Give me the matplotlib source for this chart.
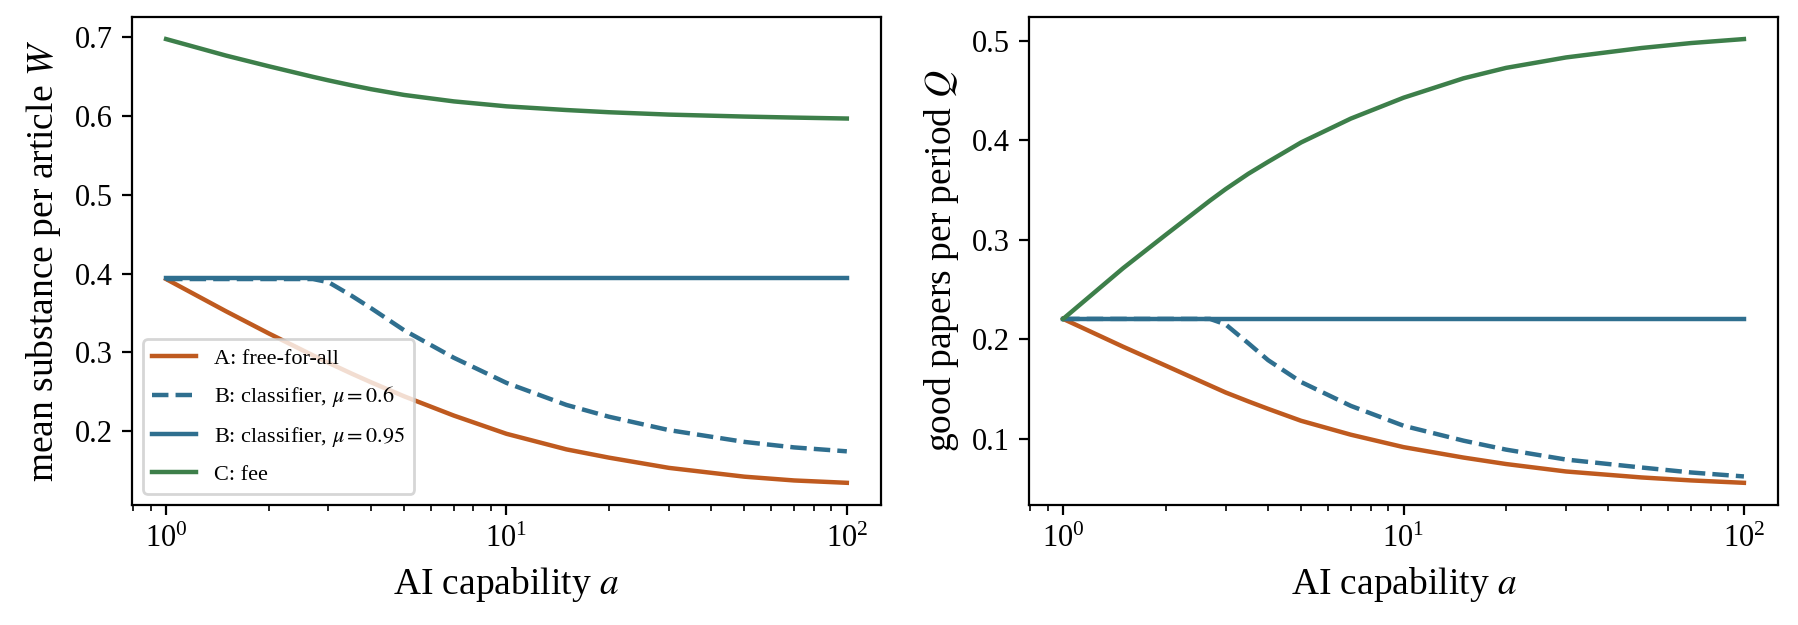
import matplotlib
matplotlib.use("Agg")
import matplotlib.pyplot as plt

plt.rcParams['font.family'] = 'serif'
plt.rcParams['font.serif'] = ['Liberation Serif', 'DejaVu Serif']
plt.rcParams['mathtext.fontset'] = 'stix'

# capacidad de la IA (eje x)
a = [1, 1.5, 2, 2.7, 3, 3.5, 4, 5, 7, 10, 15, 20, 30, 50, 70, 100]

# sustancia media por artículo W
W_A = [0.393, 0.352, 0.324, 0.296, 0.2865, 0.273, 0.2618, 0.244, 0.2195, 0.1963,
       0.1765, 0.166, 0.153, 0.1418, 0.137, 0.134]
W_B06 = [0.393, 0.393, 0.393, 0.393, 0.389, 0.372, 0.356, 0.328, 0.293, 0.261,
         0.233, 0.218, 0.201, 0.186, 0.179, 0.174]
W_B095 = [0.394] * 16
W_C = [0.698, 0.677, 0.6635, 0.650, 0.6455, 0.6393, 0.6343, 0.627, 0.6188, 0.6125,
       0.6078, 0.605, 0.602, 0.5995, 0.5982, 0.597]

# papers buenos por periodo Q
Q_A = [0.2205, 0.1925, 0.1735, 0.1535, 0.1465, 0.1375, 0.130, 0.118, 0.104, 0.0915,
       0.081, 0.0745, 0.067, 0.061, 0.058, 0.0556]
Q_B06 = [0.2205, 0.2205, 0.2205, 0.2205, 0.215, 0.196, 0.179, 0.157, 0.133, 0.113,
         0.098, 0.089, 0.079, 0.071, 0.066, 0.062]
Q_B095 = [0.2205] * 16
Q_C = [0.2205, 0.2715, 0.305, 0.3395, 0.351, 0.3665, 0.3785, 0.398, 0.422, 0.443,
       0.4625, 0.473, 0.4835, 0.493, 0.498, 0.502]

etiquetas = ['A: free-for-all', r'B: classifier, $\mu=0.6$',
             r'B: classifier, $\mu=0.95$', 'C: fee']
colores = ['#bf5a1f', '#2f6f8f', '#2f6f8f', '#3d7f4a']
estilos = ['-', '--', '-', '-']

fig, (ax1, ax2) = plt.subplots(1, 2, figsize=(8.995, 3.125), dpi=200)
fig.subplots_adjust(left=0.0734, right=0.9883, bottom=0.192, top=0.973, wspace=0.198)

for ax, series in [(ax1, [W_A, W_B06, W_B095, W_C]), (ax2, [Q_A, Q_B06, Q_B095, Q_C])]:
    for y, lab, c, ls in zip(series, etiquetas, colores, estilos):
        ax.plot(a, y, color=c, linestyle=ls, linewidth=1.6, label=lab)
    ax.set_xscale('log')
    ax.set_xlabel(r'AI capability $a$', fontsize=13.5)
    ax.tick_params(labelsize=11)

ax1.set_ylabel(r'mean substance per article $W$', fontsize=13.5)
ax2.set_ylabel(r'good papers per period $Q$', fontsize=13.5)
ax1.legend(loc='lower left', fontsize=8, labelspacing=0.7)

fig.savefig('out.png', dpi=200)
